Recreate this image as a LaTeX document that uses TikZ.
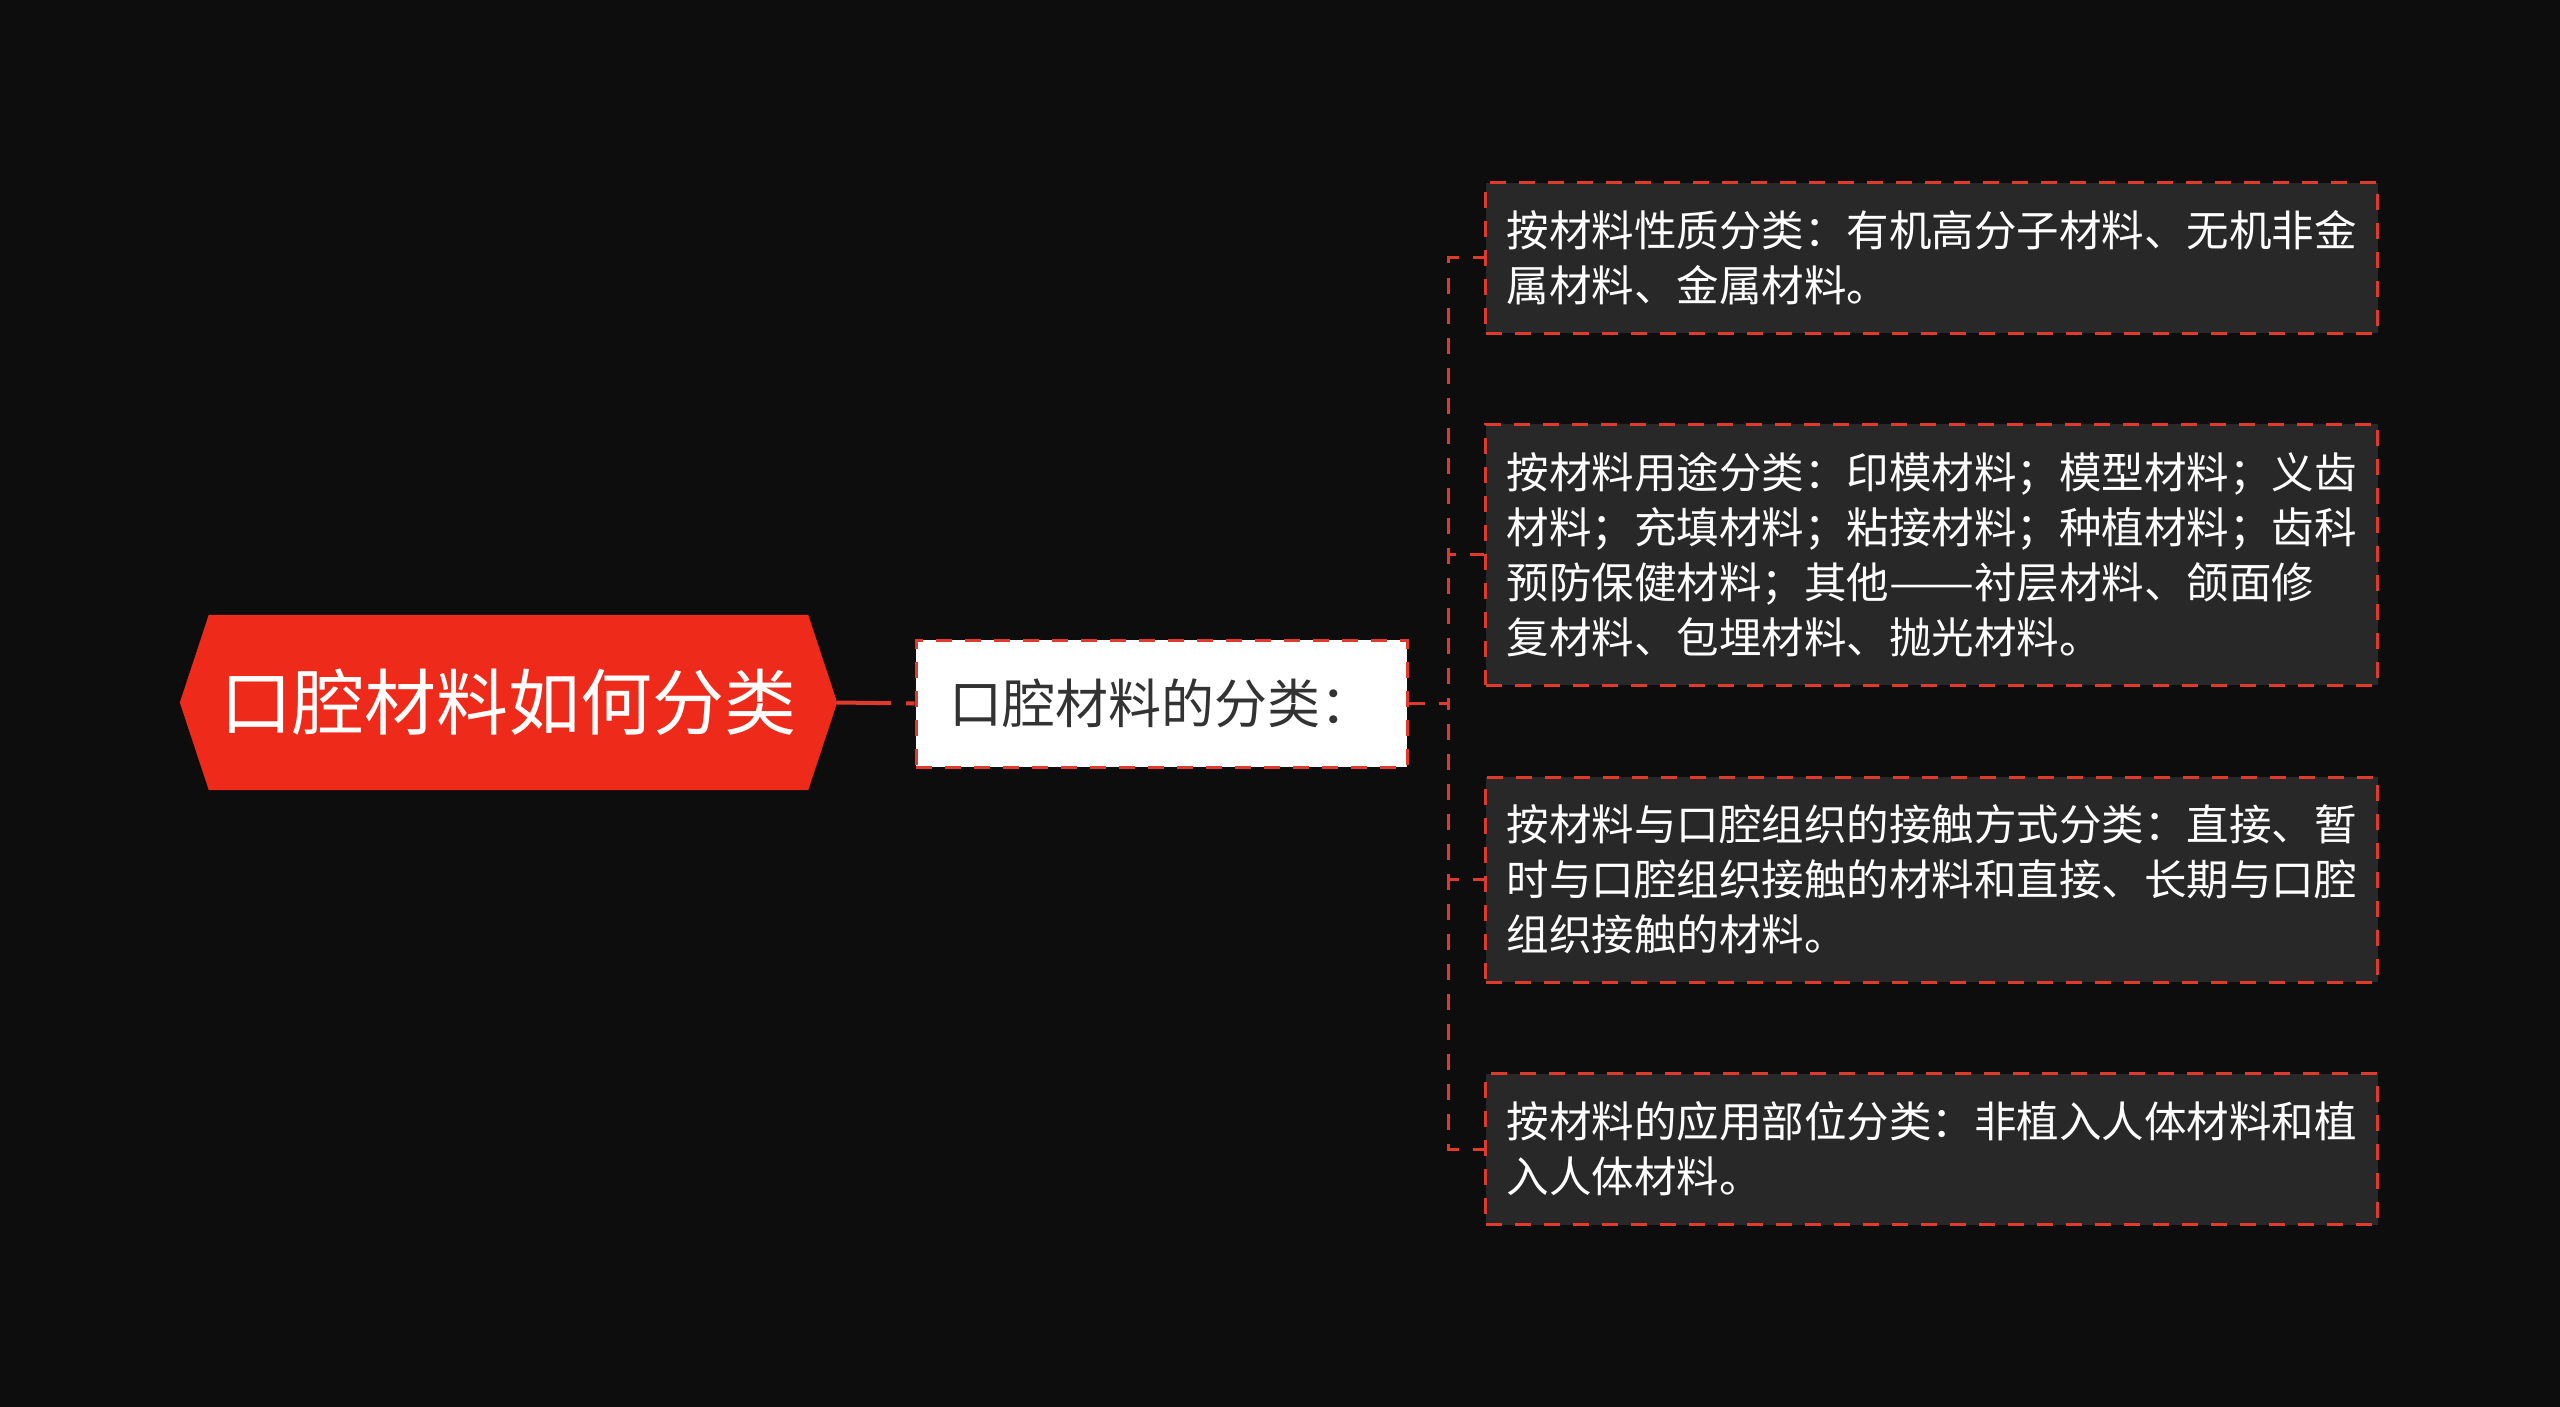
\documentclass[tikz,border=0pt]{standalone}
\usepackage{fontspec}
\newfontfamily\cjk{Noto Sans CJK SC}
\usetikzlibrary{backgrounds}
\definecolor{bg}{HTML}{0D0D0D}
\definecolor{rootred}{HTML}{EE2A1A}
\definecolor{linered}{HTML}{E03A2C}
\definecolor{boxgray}{HTML}{282828}
\definecolor{txtdark}{HTML}{333333}
\begin{document}
\begin{tikzpicture}[x=1pt,y=-1pt,
  roottext/.style={inner sep=0pt, minimum width=657pt, minimum height=175pt, text=white,
    font=\cjk\fontsize{72}{86}\selectfont},
  catbox/.style={draw=linered, line width=3pt, dash pattern=on 16pt off 13pt, fill=white,
    minimum width=491pt, minimum height=127pt, inner sep=0pt, text=txtdark,
    font=\cjk\fontsize{53}{64}\selectfont},
  leafbox/.style={draw=linered, line width=3pt, dash pattern=on 16pt off 13pt, fill=boxgray,
    text width=850pt, inner xsep=21pt, inner ysep=0pt, align=left, text=white,
    font=\cjk\fontsize{42.5}{55}\selectfont},
  rootconn/.style={draw=linered, line width=4pt, dash pattern=on 54pt off 15pt},
  conn/.style={draw=linered, line width=3pt, dash pattern=on 16pt off 14pt},
]
\useasboundingbox (0,0) rectangle (2560,1407);
\begin{scope}[on background layer]
  \fill[bg] (0,0) rectangle (2560,1407);
\end{scope}

\node[roottext] (root) at (508.5,702.5) {口腔材料如何分类};
\begin{scope}[on background layer]
  \fill[rootred] (root.west) -- ([xshift=29pt]root.north west) -- ([xshift=-29pt]root.north east)
    -- (root.east) -- ([xshift=-29pt]root.south east) -- ([xshift=29pt]root.south west) -- cycle;
\end{scope}

\node[catbox] (cat) at (1161.5,703.5) {口腔材料的分类：};

\node[leafbox, minimum height=150pt] (l1) at (1931.5,258) {按材料性质分类：有机高分子材料、无机非金\\属材料、金属材料。};
\node[leafbox, minimum height=261pt] (l2) at (1931.5,554.5) {按材料用途分类：印模材料；模型材料；义齿\\材料；充填材料；粘接材料；种植材料；齿科\\预防保健材料；其他\resizebox{85pt}{\height}{——}衬层材料、颌面修\\复材料、包埋材料、抛光材料。};
\node[leafbox, minimum height=205pt] (l3) at (1931.5,879.5) {按材料与口腔组织的接触方式分类：直接、暂\\时与口腔组织接触的材料和直接、长期与口腔\\组织接触的材料。};
\node[leafbox, minimum height=151pt] (l4) at (1931.5,1149) {按材料的应用部位分类：非植入人体材料和植\\入人体材料。};

\draw[rootconn] (root.east) -- (cat.west);
\foreach \t in {l1,l2,l3,l4}{
  \draw[conn] (cat.east) -- ++(40,0) |- (\t.west);
}
\end{tikzpicture}
\end{document}
